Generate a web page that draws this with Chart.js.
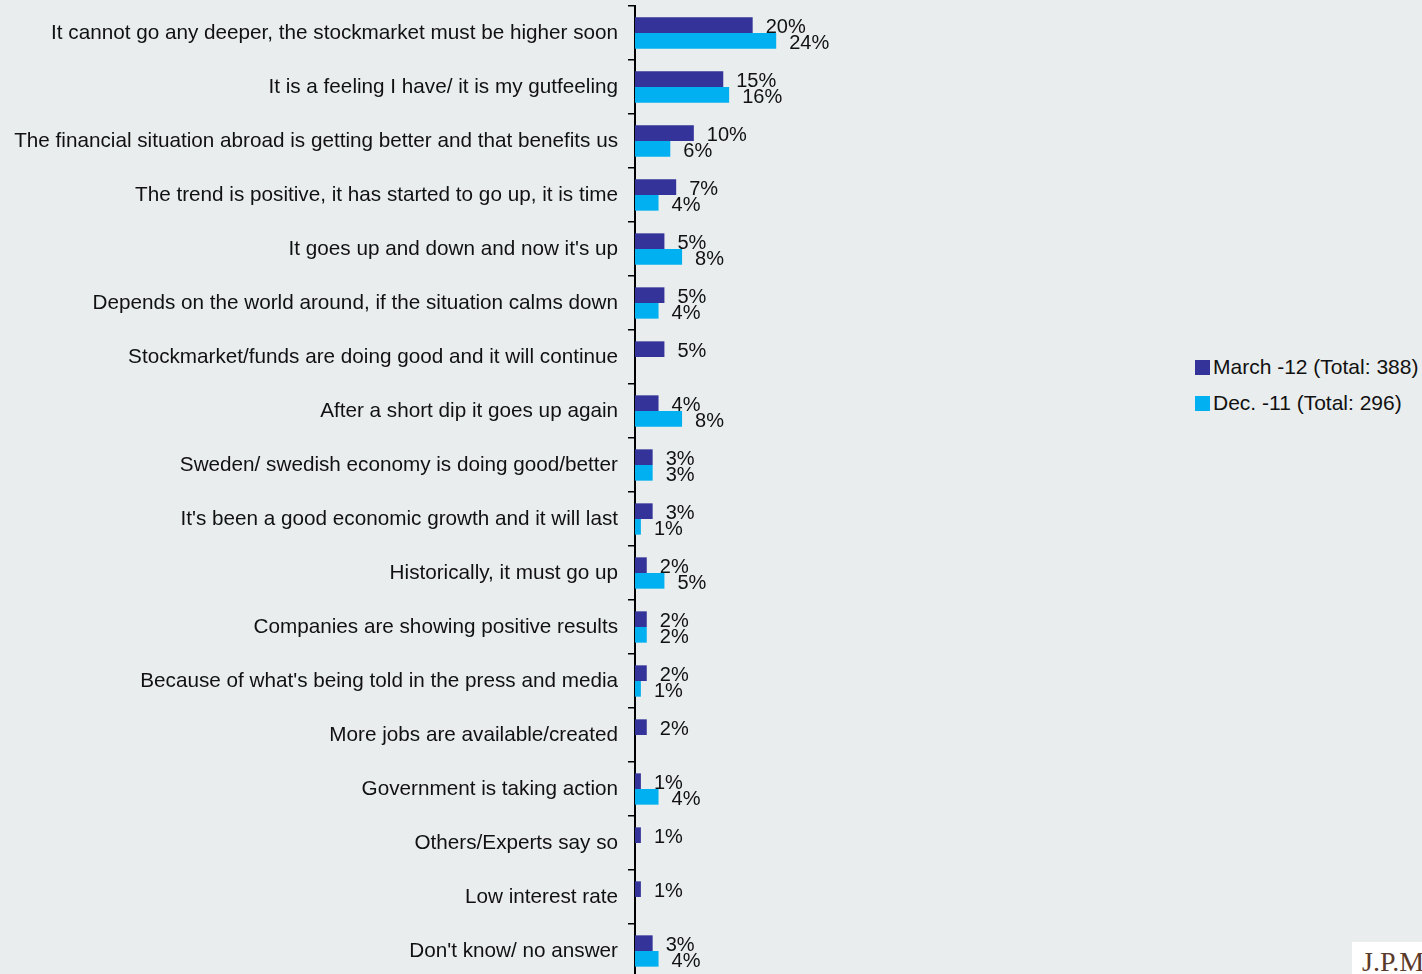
<!DOCTYPE html>
<html>
<head>
<meta charset="utf-8">
<script src="https://cdn.jsdelivr.net/npm/chart.js@4.4.1/dist/chart.umd.min.js"></script>
<style>
    html, body {
        margin: 0;
        padding: 0;
        width: 1422px;
        height: 974px;
        overflow: hidden;
        background: #e9edee;
        font-family: "Liberation Sans", Arial, sans-serif;
    }
    #wrap {
        position: absolute;
        left: 0;
        top: 0;
        width: 1000px;
        height: 990px;
    }
    #legend {
        position: absolute;
        left: 1195px;
        top: 349px;
        font-size: 21px;
        color: #111;
    }
    .legend-item {
        display: flex;
        align-items: center;
        height: 36px;
        white-space: nowrap;
    }
    .legend-box {
        width: 15px;
        height: 15px;
        margin-right: 3px;
    }
    #logo {
        position: absolute;
        left: 1352px;
        top: 942px;
        width: 80px;
        height: 40px;
        background: #fff;
        overflow: hidden;
        font-family: "Liberation Serif", "DejaVu Serif", serif;
        font-size: 28px;
        color: #5b3a2a;
        line-height: 40px;
        padding-left: 10px;
        box-sizing: border-box;
        white-space: nowrap;
    }
</style>
</head>
<body>
<div id="wrap"><canvas id="chart-reasons"></canvas></div>
<div id="legend"></div>
<div id="logo">J.P.Morgan</div>

<script>
// Reasons given for expecting the stock market to rise
const categories = [
    'It cannot go any deeper, the stockmarket must be higher soon',
    'It is a feeling I have/ it is my gutfeeling',
    'The financial situation abroad is getting better and that benefits us',
    'The trend is positive, it has started to go up, it is time',
    "It goes up and down and now it's up",
    'Depends on the world around, if the situation calms down',
    'Stockmarket/funds are doing good and it will continue',
    'After a short dip it goes up again',
    'Sweden/ swedish economy is doing good/better',
    "It's been a good economic growth and it will last",
    'Historically, it must go up',
    'Companies are showing positive results',
    "Because of what's being told in the press and media",
    'More jobs are available/created',
    'Government is taking action',
    'Others/Experts say so',
    'Low interest rate',
    "Don't know/ no answer"
];

const seriesLabels = ['March -12 (Total: 388)', 'Dec. -11 (Total: 296)'];
const march12 = [20, 15, 10, 7, 5, 5, 5, 4, 3, 3, 2, 2, 2, 2, 1, 1, 1, 3];
const dec11 = [24, 16, 6, 4, 8, 4, null, 8, 3, 1, 5, 2, 1, null, 4, null, null, 4];

const colors = {
    march: '#333399',
    dec: '#00b0f0',
    text: '#111111'
};

// Percent labels just past the end of each bar
const valueLabels = {
    id: 'valueLabels',
    afterDatasetsDraw(chart) {
        const ctx = chart.ctx;
        ctx.save();
        ctx.font = '20px "Liberation Sans", Arial, sans-serif';
        ctx.fillStyle = colors.text;
        ctx.textAlign = 'left';
        ctx.textBaseline = 'middle';
        chart.data.datasets.forEach((ds, i) => {
            const meta = chart.getDatasetMeta(i);
            meta.data.forEach((bar, j) => {
                const v = ds.data[j];
                if (v === null || v === undefined) return;
                ctx.fillText(v + '%', bar.x + 13, bar.y + 2.5);
            });
        });
        ctx.restore();
    }
};

function buildLegend(chart) {
    const legend = document.getElementById('legend');
    legend.innerHTML = chart.data.datasets.map(ds => `
        <div class="legend-item">
          <span class="legend-box" style="background:${ds.backgroundColor}"></span>
          <span>${ds.label}</span>
        </div>
    `).join('');
}

function initChart() {
    const ctx = document.getElementById('chart-reasons').getContext('2d');
    const chart = new Chart(ctx, {
        type: 'bar',
        data: {
            labels: categories,
            datasets: [
                {
                    label: seriesLabels[0],
                    data: march12,
                    backgroundColor: colors.march,
                    borderWidth: 0
                },
                {
                    label: seriesLabels[1],
                    data: dec11,
                    backgroundColor: colors.dec,
                    borderWidth: 0
                }
            ]
        },
        options: {
            indexAxis: 'y',
            responsive: true,
            maintainAspectRatio: false,
            animation: false,
            categoryPercentage: 0.58,
            barPercentage: 1,
            layout: {
                padding: { top: 6, bottom: 12, left: 0, right: 12 }
            },
            plugins: {
                legend: { display: false },
                tooltip: { enabled: false }
            },
            scales: {
                x: {
                    display: false,
                    min: 0,
                    max: 60
                },
                y: {
                    afterFit(scale) {
                        // fixed axis position, no extra room for the end labels
                        scale.width = 635;
                        scale.paddingTop = 0;
                        scale.paddingBottom = 0;
                    },
                    border: {
                        color: '#000',
                        width: 2
                    },
                    grid: {
                        drawOnChartArea: false,
                        color: '#000',
                        lineWidth: 1.5,
                        tickLength: 7
                    },
                    ticks: {
                        color: colors.text,
                        padding: 10,
                        autoSkip: false,
                        font: { size: 20.7, family: '"Liberation Sans", Arial, sans-serif' }
                    }
                }
            }
        },
        plugins: [valueLabels]
    });
    buildLegend(chart);
}

initChart();
</script>
</body>
</html>
